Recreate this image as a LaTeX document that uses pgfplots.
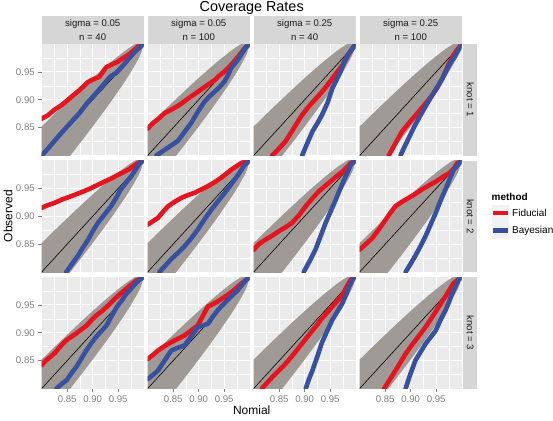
\documentclass[border=0pt]{standalone}
\usepackage{fontspec}
\setmainfont{Liberation Sans}
\usepackage{pgfplots}
\pgfplotsset{compat=1.18}
\definecolor{panelbg}{RGB}{235,235,235}
\definecolor{stripbg}{RGB}{214,214,214}
\definecolor{bandcol}{RGB}{160,154,150}
\definecolor{fidred}{RGB}{230,20,30}
\definecolor{bayblue}{RGB}{55,80,160}
\definecolor{ticktxt}{RGB}{127,127,127}
\definecolor{striptxt}{RGB}{26,26,26}
\definecolor{keybg}{RGB}{242,242,242}

\pgfplotsset{
 panel/.style={
  width=102bp, height=111.5bp, scale only axis, anchor=north west,
  xmin=0.8,xmax=1,ymin=0.8,ymax=1,
  xtick={0.85,0.9,0.95}, ytick={0.85,0.9,0.95},
  minor xtick={0.825,0.875,0.925,0.975}, minor ytick={0.825,0.875,0.925,0.975},
  grid=both,
  major grid style={white, line width=1.1bp},
  minor grid style={white!92!panelbg, line width=0.5bp},
  axis line style={draw=none},
  axis background/.style={fill=panelbg},
  tick align=outside, xtick pos=bottom, ytick pos=left,
  major tick length=3.5bp, minor tick length=0pt,
  xtick style={draw=none}, ytick style={draw=none},
  xticklabels={}, yticklabels={},
  tick label style={font=\fontsize{9.6bp}{11bp}\selectfont, text=ticktxt},
 },
 ylab/.style={yticklabels={0.85,0.90,0.95}, ytick style={draw=ticktxt, line width=0.7bp}},
 xlab/.style={xticklabels={0.85,0.90,0.95}, xtick style={draw=ticktxt, line width=0.7bp}},
}

\newcommand{\panel}[5]{%
 \begin{axis}[panel, at={(#1bp,#2bp)}, #3]
  \addplot[fill=bandcol, draw=none] coordinates {(0.8,0.852)(0.82,0.870)(0.84,0.8877)(0.86,0.9051)(0.88,0.9223)(0.90,0.939)(0.92,0.9553)(0.94,0.9709)(0.96,0.9855)(0.97,0.9922)(0.98,0.9982)(0.99,1.003)(1,1)(0.995,0.9837)(0.99,0.974)(0.98,0.9576)(0.97,0.9427)(0.96,0.9286)(0.94,0.902)(0.92,0.8766)(0.90,0.852)(0.88,0.828)(0.86,0.8045)(0.84,0.7813)(0.82,0.7585)(0.80,0.736)};
  \addplot[black, line width=0.6bp] coordinates {(0.8,0.8)(1,1)};
  \addplot[fidred, line width=4.6bp, line join=round, line cap=round] coordinates {#4};
  \addplot[bayblue, line width=4.6bp, line join=round, line cap=round] coordinates {#5};
 \end{axis}}

\begin{document}
\begin{tikzpicture}[x=1bp,y=1bp]
\path[use as bounding box] (0,0) rectangle (553,420);
% row 1
\panel{41.7}{376}{ylab}
 {(0.8,0.866)(0.812,0.872)(0.825,0.882)(0.84,0.891)(0.858,0.905)(0.875,0.918)(0.891,0.932)(0.902,0.937)(0.913,0.941)(0.926,0.958)(0.937,0.963)(0.949,0.968)(0.96,0.975)(0.969,0.98)(0.98,0.988)(0.988,0.995)(1,1)}
 {(0.8,0.8)(0.812,0.812)(0.825,0.826)(0.84,0.842)(0.858,0.86)(0.875,0.877)(0.89,0.895)(0.905,0.91)(0.92,0.926)(0.935,0.942)(0.946,0.948)(0.96,0.962)(0.972,0.975)(0.985,0.988)(1,1)}
\panel{147.7}{376}{}
 {(0.8,0.848)(0.81,0.858)(0.82,0.865)(0.833,0.876)(0.85,0.884)(0.866,0.893)(0.882,0.904)(0.898,0.914)(0.915,0.925)(0.931,0.935)(0.94,0.943)(0.95,0.95)(0.963,0.962)(0.977,0.977)(0.99,0.992)(1,1)}
 {(0.817,0.8)(0.833,0.81)(0.846,0.818)(0.859,0.826)(0.872,0.842)(0.885,0.858)(0.898,0.878)(0.911,0.896)(0.921,0.906)(0.931,0.914)(0.94,0.922)(0.95,0.932)(0.958,0.945)(0.963,0.956)(0.977,0.972)(0.993,0.995)(1,1)}
\panel{253.7}{376}{}
 {(0.836,0.8)(0.849,0.812)(0.862,0.825)(0.878,0.848)(0.895,0.873)(0.91,0.89)(0.928,0.908)(0.941,0.922)(0.954,0.938)(0.964,0.95)(0.974,0.962)(0.987,0.983)(1,1)}
 {(0.895,0.8)(0.905,0.822)(0.915,0.843)(0.925,0.858)(0.934,0.873)(0.945,0.895)(0.954,0.92)(0.962,0.935)(0.97,0.95)(0.977,0.966)(0.984,0.98)(1,1)}
\panel{359.7}{376}{}
 {(0.857,0.8)(0.87,0.822)(0.883,0.843)(0.9,0.862)(0.916,0.879)(0.929,0.893)(0.942,0.908)(0.952,0.922)(0.962,0.938)(0.975,0.965)(0.988,0.986)(1,1)}
 {(0.88,0.8)(0.888,0.816)(0.896,0.831)(0.906,0.85)(0.916,0.867)(0.929,0.888)(0.942,0.908)(0.952,0.922)(0.962,0.938)(0.975,0.962)(0.988,0.98)(1,1)}
% row 2
\panel{41.7}{259.5}{ylab}
 {(0.8,0.915)(0.812,0.92)(0.825,0.924)(0.84,0.93)(0.858,0.936)(0.875,0.942)(0.891,0.948)(0.907,0.955)(0.923,0.962)(0.937,0.968)(0.949,0.974)(0.96,0.979)(0.969,0.983)(0.98,0.99)(0.988,0.995)(1,1)}
 {(0.848,0.8)(0.86,0.815)(0.871,0.829)(0.881,0.844)(0.891,0.858)(0.9,0.873)(0.91,0.888)(0.923,0.903)(0.936,0.918)(0.946,0.933)(0.955,0.948)(0.965,0.96)(0.975,0.971)(0.985,0.985)(0.992,0.995)(1,1)}
\panel{147.7}{259.5}{}
 {(0.8,0.885)(0.81,0.891)(0.82,0.897)(0.83,0.908)(0.84,0.918)(0.853,0.926)(0.866,0.933)(0.879,0.938)(0.892,0.942)(0.905,0.948)(0.918,0.954)(0.931,0.961)(0.944,0.969)(0.954,0.976)(0.963,0.983)(0.973,0.989)(0.983,0.995)(1,1)}
 {(0.823,0.8)(0.835,0.812)(0.846,0.823)(0.859,0.834)(0.872,0.846)(0.885,0.86)(0.898,0.876)(0.911,0.894)(0.925,0.912)(0.938,0.927)(0.951,0.942)(0.96,0.953)(0.97,0.965)(0.98,0.978)(0.99,0.992)(1,1)}
\panel{253.7}{259.5}{}
 {(0.8,0.84)(0.81,0.85)(0.823,0.858)(0.836,0.865)(0.849,0.873)(0.862,0.88)(0.875,0.888)(0.889,0.902)(0.902,0.918)(0.915,0.932)(0.928,0.945)(0.941,0.955)(0.954,0.965)(0.964,0.973)(0.974,0.98)(0.983,0.988)(0.99,0.995)(1,1)}
 {(0.898,0.8)(0.91,0.82)(0.921,0.84)(0.931,0.864)(0.941,0.888)(0.951,0.909)(0.961,0.93)(0.969,0.948)(0.977,0.965)(0.984,0.979)(0.99,0.992)(1,1)}
\panel{359.7}{259.5}{}
 {(0.8,0.84)(0.812,0.85)(0.825,0.861)(0.838,0.877)(0.851,0.894)(0.86,0.906)(0.87,0.918)(0.883,0.926)(0.896,0.933)(0.909,0.94)(0.922,0.948)(0.935,0.955)(0.949,0.962)(0.962,0.97)(0.975,0.977)(0.985,0.986)(0.991,0.995)(1,1)}
 {(0.89,0.8)(0.9,0.815)(0.909,0.829)(0.919,0.846)(0.929,0.864)(0.939,0.885)(0.949,0.906)(0.958,0.927)(0.968,0.948)(0.976,0.966)(0.984,0.983)(1,1)}
% row 3
\panel{41.7}{143}{ylab,xlab}
 {(0.8,0.842)(0.808,0.85)(0.816,0.856)(0.826,0.864)(0.836,0.875)(0.849,0.887)(0.868,0.899)(0.878,0.906)(0.888,0.913)(0.897,0.922)(0.907,0.931)(0.917,0.938)(0.927,0.946)(0.937,0.955)(0.947,0.964)(0.957,0.972)(0.966,0.979)(0.976,0.987)(0.986,0.994)(1,1)}
 {(0.829,0.8)(0.839,0.808)(0.849,0.815)(0.858,0.827)(0.868,0.839)(0.878,0.854)(0.888,0.869)(0.897,0.881)(0.907,0.893)(0.917,0.903)(0.927,0.913)(0.937,0.93)(0.947,0.946)(0.957,0.958)(0.966,0.97)(0.976,0.98)(0.986,0.991)(1,1)}
\panel{147.7}{143}{xlab}
 {(0.8,0.853)(0.81,0.86)(0.82,0.868)(0.833,0.876)(0.846,0.883)(0.859,0.889)(0.872,0.895)(0.885,0.904)(0.898,0.913)(0.908,0.93)(0.918,0.947)(0.927,0.951)(0.937,0.956)(0.947,0.962)(0.957,0.968)(0.967,0.975)(0.977,0.983)(0.993,0.995)(1,1)}
 {(0.8,0.817)(0.81,0.824)(0.82,0.832)(0.833,0.85)(0.846,0.868)(0.859,0.873)(0.872,0.877)(0.885,0.893)(0.898,0.91)(0.908,0.913)(0.918,0.916)(0.927,0.928)(0.937,0.94)(0.947,0.95)(0.957,0.959)(0.967,0.968)(0.977,0.977)(0.993,0.995)(1,1)}
\panel{253.7}{143}{xlab}
 {(0.816,0.8)(0.826,0.81)(0.836,0.82)(0.849,0.832)(0.862,0.844)(0.876,0.859)(0.889,0.874)(0.902,0.889)(0.915,0.904)(0.925,0.915)(0.934,0.926)(0.944,0.936)(0.954,0.947)(0.964,0.957)(0.974,0.968)(0.982,0.982)(0.99,0.995)(1,1)}
 {(0.902,0.8)(0.908,0.816)(0.915,0.832)(0.925,0.858)(0.934,0.883)(0.944,0.903)(0.954,0.923)(0.964,0.938)(0.974,0.953)(0.981,0.968)(0.987,0.983)(0.997,1.0)}
\panel{359.7}{143}{xlab}
 {(0.848,0.8)(0.859,0.816)(0.87,0.832)(0.88,0.847)(0.89,0.862)(0.899,0.874)(0.909,0.886)(0.919,0.898)(0.929,0.91)(0.939,0.924)(0.949,0.938)(0.958,0.951)(0.968,0.965)(0.976,0.977)(0.984,0.989)(1,1)}
 {(0.89,0.8)(0.899,0.825)(0.909,0.85)(0.919,0.865)(0.929,0.88)(0.939,0.892)(0.949,0.904)(0.958,0.922)(0.968,0.94)(0.975,0.955)(0.981,0.97)(0.994,0.995)(1,1)}

% top strips
\foreach \x/\s/\n in {41.7/0.05/40, 147.7/0.05/100, 253.7/0.25/40, 359.7/0.25/100}{
  \fill[stripbg] (\x,404) rectangle ++(102,-28);
  \node[text=striptxt, font=\fontsize{9.6bp}{11bp}\selectfont] at (\x+51,396.2) {sigma = \s};
  \node[text=striptxt, font=\fontsize{9.6bp}{11bp}\selectfont] at (\x+51,382.8) {n = \n};
}
% right strips
\foreach \y/\k in {376/1, 259.5/2, 143/3}{
  \fill[stripbg] (463.2,\y) rectangle ++(14,-111.5);
  \node[text=striptxt, rotate=-90, font=\fontsize{9.6bp}{11bp}\selectfont] at (470.2,\y-55.75) {knot = \k};
}
% titles
\node[font=\fontsize{14.4bp}{16bp}\selectfont] at (251.7,412) {Coverage Rates};
\node[font=\fontsize{12bp}{14bp}\selectfont] at (251.7,9.5) {Nomial};
\node[rotate=90, font=\fontsize{12bp}{14bp}\selectfont] at (8,204) {Observed};
% legend
\node[anchor=west, font=\bfseries\fontsize{10bp}{12bp}\selectfont, inner sep=0pt] at (491.5,223) {method};
\fill[keybg] (491.5,198.5) rectangle (508.5,215.5);
\draw[fidred, line width=4.6bp] (492.5,207) -- (507.5,207);
\fill[keybg] (491.5,181) rectangle (508.5,198);
\draw[bayblue, line width=4.6bp] (492.5,189.5) -- (507.5,189.5);
\node[anchor=west, font=\fontsize{10bp}{12bp}\selectfont, inner sep=0pt] at (512,207) {Fiducial};
\node[anchor=west, font=\fontsize{10bp}{12bp}\selectfont, inner sep=0pt] at (512,189.5) {Bayesian};
\end{tikzpicture}
\end{document}
